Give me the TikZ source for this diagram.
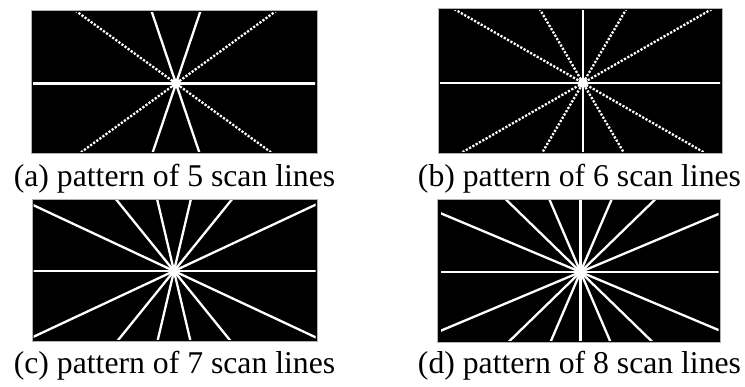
\documentclass[tikz,border=0pt]{standalone}
\usepackage{fontspec}
\setmainfont{Liberation Serif}
\usetikzlibrary{calc}
\begin{document}
\begin{tikzpicture}[x=1pt,y=-1pt,
  panel/.style={fill=black,draw=gray!60,line width=0.8pt},
  scan/.style={white,line width=2.3pt},
  dotscan/.style={white,line width=2.3pt,dash pattern=on 2.2pt off 1.6pt},
  hub/.style={white,fill=white},
  captext/.style={font=\fontsize{31.7}{38}\selectfont,anchor=base,inner sep=0pt}]
\useasboundingbox (0,0) rectangle (745,386);

% ---------- (a) ----------
\draw[panel] (31,10) rectangle (317,153);
\begin{scope}
  \clip (33,12) rectangle (315,151);
  \coordinate (ca) at (176,83.5);
  \draw[scan] (33,83.5) -- (317,83.5);
  \foreach \dx/\dy in {98/71,-98/71} \draw[dotscan] ($(ca)+(-2*\dx,-2*\dy)$) -- ($(ca)+(2*\dx,2*\dy)$);
  \foreach \dx/\dy in {24/71,-24/71} \draw[scan] ($(ca)+(-2*\dx,-2*\dy)$) -- ($(ca)+(2*\dx,2*\dy)$);
  \fill[hub] (ca) circle (5);
\end{scope}
\node[captext] (capa) at (174.5,186) {(a) pattern of 5 scan lines};

% ---------- (b) ----------
\draw[panel] (438,8) rectangle (722,153);
\begin{scope}
  \clip (440,10) rectangle (720,151);
  \coordinate (cb) at (583,83);
  \draw[scan] (440,83) -- (722,83);
  \draw[scan] (583,10) -- (583,153);
  \foreach \dx/\dy in {122/70,-122/70,41/70,-41/70} \draw[dotscan] ($(cb)+(-2*\dx,-2*\dy)$) -- ($(cb)+(2*\dx,2*\dy)$);
  \fill[hub] (cb) circle (5);
\end{scope}
\node[captext] (capb) at (579.5,186) {(b) pattern of 6 scan lines};

% ---------- (c) ----------
\draw[panel] (32,199) rectangle (317,341);
\begin{scope}
  \clip (33.5,200.5) rectangle (315.5,339.5);
  \coordinate (cc) at (174,271);
  \draw[scan] (33,271) -- (317,271);
  \foreach \dx/\dy in {141/66,-141/66,55/68,-55/68,16/68,-16/68} \draw[scan] ($(cc)+(-2*\dx,-2*\dy)$) -- ($(cc)+(2*\dx,2*\dy)$);
  \fill[hub] (cc) circle (5.5);
\end{scope}
\node[captext] (capc) at (174.5,373) {(c) pattern of 7 scan lines};

% ---------- (d) ----------
\draw[panel] (437,199) rectangle (720,342);
\begin{scope}
  \clip (441,200.5) rectangle (718.5,340.5);
  \coordinate (cd) at (580.5,272);
  \draw[scan] (440,272) -- (720,272);
  \draw[scan] (580.5,199) -- (580.5,342);
  \foreach \dx/\dy in {138/58,-138/58,72/70,-72/70,30/70,-30/70} \draw[scan] ($(cd)+(-2*\dx,-2*\dy)$) -- ($(cd)+(2*\dx,2*\dy)$);
  \fill[hub] (cd) circle (5.5);
\end{scope}
\node[captext] (capd) at (579.5,373) {(d) pattern of 8 scan lines};
\end{tikzpicture}
\end{document}
